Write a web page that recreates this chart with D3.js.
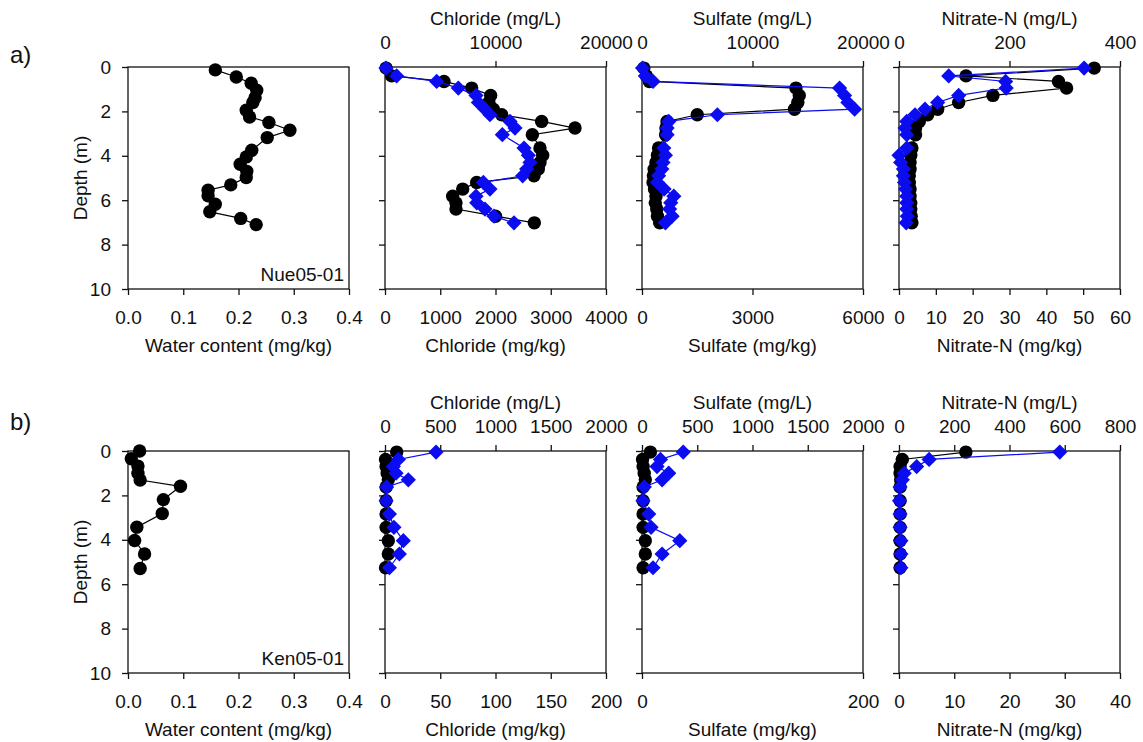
<!DOCTYPE html>
<html>
<head>
<meta charset="utf-8">
<script src="https://cdn.jsdelivr.net/npm/d3@7"></script>
<style>
  body { margin: 0; background: #fff; }
  text { font-family: "Liberation Sans", Arial, sans-serif; fill: #111; }
</style>
</head>
<body>
<svg id="chart" width="1143" height="742"></svg>
<script>
// ---------- Depth axis ----------
const depthTicks = [0, 2, 4, 6, 8, 10];

// ---------- Profile a) Nue05-01 ----------
const nueWaterDepth = [0.13, 0.45, 0.73, 1.05, 1.38, 1.6, 1.95, 2.25, 2.5, 2.85, 3.18, 3.75, 4.05, 4.38, 4.7, 4.98, 5.31, 5.55, 5.8, 6.18, 6.52, 6.82, 7.1];
const nueWater = [0.158, 0.196, 0.223, 0.233, 0.230, 0.226, 0.214, 0.220, 0.255, 0.293, 0.252, 0.224, 0.214, 0.203, 0.215, 0.214, 0.186, 0.145, 0.145, 0.158, 0.148, 0.204, 0.232];

const nueDepth = [0.05, 0.4, 0.65, 0.95, 1.28, 1.6, 1.9, 2.15, 2.45, 2.75, 3.05, 3.65, 3.98, 4.3, 4.6, 4.9, 5.2, 5.5, 5.82, 6.12, 6.4, 6.72, 7.02];
const nueChlorideKg = [20, 120, 1068, 1569, 1912, 1880, 1960, 2112, 2835, 3439, 2667, 2805, 2854, 2805, 2775, 2697, 1659, 1406, 1225, 1285, 1285, 2000, 2703];
const nueChlorideL = [90, 1056, 4676, 6637, 8236, 8450, 9050, 9500, 11314, 11766, 10620, 12580, 12973, 13124, 12822, 12460, 8900, 9500, 8236, 8300, 9050, 9865, 11675];
const nueSulfateKg = [50, 120, 200, 4180, 4270, 4230, 4140, 1500, 680, 650, 640, 450, 420, 380, 330, 310, 300, 340, 380, 360, 400, 420, 480];
const nueSulfateL = [50, 300, 1000, 17880, 18330, 18630, 19240, 6820, 2424, 2270, 2270, 1970, 2120, 1900, 1800, 1500, 1400, 2000, 2880, 2600, 2500, 2730, 2120];
const nueNitrateKg = [53, 18.2, 43.3, 45.5, 25.5, 16.2, 10.5, 7.8, 5.5, 4.5, 4.5, 3.5, 3.2, 3.0, 3.0, 2.8, 2.8, 3.0, 3.0, 3.2, 3.2, 3.3, 3.5];
const nueNitrateL = [335, 90, 193, 194, 108, 70, 47, 29, 14, 11, 14, 14, 0, 3, 8, 8, 10, 12, 14, 14, 14, 15, 13];

// ---------- Profile b) Ken05-01 ----------
const kenWaterDepth = [0.0, 0.35, 0.68, 1.0, 1.31, 1.59, 2.19, 2.82, 3.43, 4.03, 4.64, 5.29];
const kenWater = [0.021, 0.006, 0.018, 0.018, 0.022, 0.095, 0.064, 0.062, 0.016, 0.012, 0.030, 0.022];

const kenDepth = [0.05, 0.38, 0.7, 1.0, 1.3, 1.62, 2.24, 2.84, 3.44, 4.04, 4.64, 5.26];
const kenChlorideKg = [10.6, 0.5, 1, 2, 3, 1, 1, 1, 1, 3, 3, 0.5];
const kenChlorideL = [462, 121, 75, 100, 211, 15, 10, 40, 81, 166, 130, 40];
const kenSulfateKg = [7.6, 0.5, 1, 2, 3, 1, 1, 1, 1, 3, 3, 1];
const kenSulfateL = [373, 167, 136, 242, 182, 21, 9, 61, 82, 342, 182, 100];
const kenNitrateKg = [12.1, 0.6, 0.2, 0.2, 0.3, 0.2, 0.2, 0.2, 0.2, 0.2, 0.2, 0.2];
const kenNitrateL = [582, 109, 64, 19, 12, 4, 2, 4, 4, 7, 7, 7];

// ---------- Tick values ----------
const waterTicks = [0, 0.1, 0.2, 0.3, 0.4];
const nueChlorideKgTicks = [0, 1000, 2000, 3000, 4000];
const nueChlorideLTicks = [0, 10000, 20000];
const nueSulfateKgTicks = [0, 3000, 6000];
const nueSulfateLTicks = [0, 10000, 20000];
const nueNitrateKgTicks = [0, 10, 20, 30, 40, 50, 60];
const nueNitrateLTicks = [0, 200, 400];
const kenChlorideKgTicks = [0, 50, 100, 150, 200];
const kenChlorideLTicks = [0, 500, 1000, 1500, 2000];
const kenSulfateKgTicks = [0, 200];
const kenSulfateLTicks = [0, 500, 1000, 1500, 2000];
const kenNitrateKgTicks = [0, 10, 20, 30, 40];
const kenNitrateLTicks = [0, 200, 400, 600, 800];

// ---------- Layout ----------
const svg = d3.select("#chart");
const panelLeft = [128, 385, 642, 899];
const rowTop = [67, 451];
const rowLabelY = [63, 430];
const W = 221, H = 222;
const FONT = 19;
const BLUE = "#0c0cf0";

const diamond = r => `M0,${-r}L${r},0L0,${r}L${-r},0Z`;

function drawPanel(cfg) {
  const g = svg.append("g").attr("transform", `translate(${cfg.x},${cfg.y})`);
  const y = d3.scaleLinear().domain([0, 10]).range([0, H]);
  const xb = d3.scaleLinear().domain(cfg.bottomDomain).range([0, W]);
  const xt = cfg.topDomain ? d3.scaleLinear().domain(cfg.topDomain).range([0, W]) : null;

  // left depth axis
  const left = g.append("g").call(
    d3.axisLeft(y).tickValues(depthTicks).tickSize(6).tickSizeOuter(0).tickPadding(11)
      .tickFormat(cfg.depthLabels ? d3.format("d") : () => "")
  );
  // bottom axis
  const bottom = g.append("g").attr("transform", `translate(0,${H})`).call(
    d3.axisBottom(xb).tickValues(cfg.bottomTicks).tickSize(6).tickSizeOuter(0).tickPadding(16)
      .tickFormat(cfg.bottomFormat || d3.format("d"))
  );
  const axes = [left, bottom];
  if (xt) {
    const top = g.append("g").call(
      d3.axisTop(xt).tickValues(cfg.topTicks).tickSize(6).tickSizeOuter(0).tickPadding(12)
        .tickFormat(d3.format("d"))
    );
    axes.push(top);
  }
  axes.forEach(a => {
    a.select(".domain").remove();
    a.selectAll(".tick line").attr("stroke", "#111").attr("stroke-width", 1.3);
    a.selectAll(".tick text").attr("font-size", FONT).style("font-family", "'Liberation Sans', Arial, sans-serif").attr("fill", "#111");
  });

  // frame
  g.append("rect").attr("width", W).attr("height", H)
    .attr("fill", "none").attr("stroke", "#111").attr("stroke-width", 1.3);

  // titles
  g.append("text").attr("x", W / 2).attr("y", H + 63).attr("text-anchor", "middle")
    .attr("font-size", FONT).text(cfg.bottomTitle);
  if (cfg.topTitle) {
    g.append("text").attr("x", W / 2).attr("y", -42).attr("text-anchor", "middle")
      .attr("font-size", FONT).text(cfg.topTitle);
  }
  if (cfg.depthLabels) {
    g.append("text").attr("transform", `translate(-48,${H / 2}) rotate(-90)`)
      .attr("text-anchor", "middle").attr("dy", "0.35em")
      .attr("font-size", FONT).text("Depth (m)");
  }
  if (cfg.site) {
    g.append("text").attr("x", W - 5).attr("y", H - 8).attr("text-anchor", "end")
      .attr("font-size", FONT).text(cfg.site);
  }

  // data series: black circles (bottom axis) then blue diamonds (top axis)
  cfg.series.forEach(s => {
    const xs = s.axis === "top" ? xt : xb;
    const pts = s.depth.map((d, i) => [xs(s.values[i]), y(d)]);
    const color = s.axis === "top" ? BLUE : "#000";
    g.append("path").attr("d", d3.line()(pts))
      .attr("fill", "none").attr("stroke", color).attr("stroke-width", 1.2);
    const marks = g.append("g").selectAll("path").data(pts).join("path")
      .attr("transform", p => `translate(${p[0]},${p[1]})`)
      .attr("fill", color);
    if (s.axis === "top") marks.attr("d", diamond(7.6));
    else marks.attr("d", d3.symbol(d3.symbolCircle, Math.PI * 6.7 * 6.7)());
  });
}

// ---------- Panels ----------
const rows = [
  {
    top: rowTop[0], labelY: rowLabelY[0], label: "a)", site: "Nue05-01",
    water: [nueWaterDepth, nueWater],
    panels: [
      { kg: nueChlorideKg, l: nueChlorideL, bd: [0, 4000], bt: nueChlorideKgTicks, td: [0, 20000], tt: nueChlorideLTicks, name: "Chloride" },
      { kg: nueSulfateKg, l: nueSulfateL, bd: [0, 6000], bt: nueSulfateKgTicks, td: [0, 20000], tt: nueSulfateLTicks, name: "Sulfate" },
      { kg: nueNitrateKg, l: nueNitrateL, bd: [0, 60], bt: nueNitrateKgTicks, td: [0, 400], tt: nueNitrateLTicks, name: "Nitrate-N" }
    ],
    depth: nueDepth
  },
  {
    top: rowTop[1], labelY: rowLabelY[1], label: "b)", site: "Ken05-01",
    water: [kenWaterDepth, kenWater],
    panels: [
      { kg: kenChlorideKg, l: kenChlorideL, bd: [0, 200], bt: kenChlorideKgTicks, td: [0, 2000], tt: kenChlorideLTicks, name: "Chloride" },
      { kg: kenSulfateKg, l: kenSulfateL, bd: [0, 200], bt: kenSulfateKgTicks, td: [0, 2000], tt: kenSulfateLTicks, name: "Sulfate" },
      { kg: kenNitrateKg, l: kenNitrateL, bd: [0, 40], bt: kenNitrateKgTicks, td: [0, 800], tt: kenNitrateLTicks, name: "Nitrate-N" }
    ],
    depth: kenDepth
  }
];

rows.forEach(row => {
  svg.append("text").attr("x", 10).attr("y", row.labelY).attr("font-size", 24).text(row.label);

  drawPanel({
    x: panelLeft[0], y: row.top,
    bottomDomain: [0, 0.4], bottomTicks: waterTicks, bottomFormat: d3.format(".1f"),
    bottomTitle: "Water content (mg/kg)",
    depthLabels: true, site: row.site,
    series: [{ depth: row.water[0], values: row.water[1], axis: "bottom" }]
  });

  row.panels.forEach((p, i) => {
    drawPanel({
      x: panelLeft[i + 1], y: row.top,
      bottomDomain: p.bd, bottomTicks: p.bt, bottomTitle: `${p.name} (mg/kg)`,
      topDomain: p.td, topTicks: p.tt, topTitle: `${p.name} (mg/L)`,
      depthLabels: false,
      series: [
        { depth: row.depth, values: p.kg, axis: "bottom" },
        { depth: row.depth, values: p.l, axis: "top" }
      ]
    });
  });
});
</script>
</body>
</html>
